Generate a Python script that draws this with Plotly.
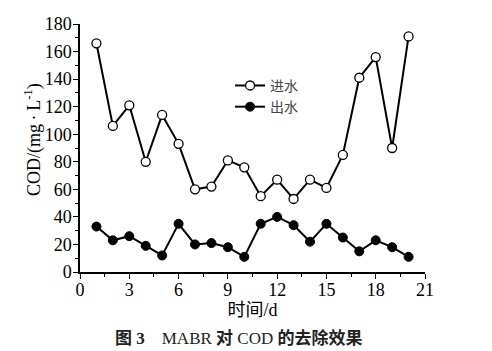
import plotly.graph_objects as go

days = list(range(1, 21))
influent = [166, 106, 121, 80, 114, 93, 60, 62, 81, 76, 55, 67, 53, 67, 61, 85, 141, 156, 90, 171]
effluent = [33, 23, 26, 19, 12, 35, 20, 21, 18, 11, 35, 40, 34, 22, 35, 25, 15, 23, 18, 11]
names = ["进水", "出水"]

serif = "Liberation Serif, Times New Roman, Noto Sans CJK SC, serif"

fig = go.Figure()
fig.add_trace(go.Scatter(
    x=days, y=influent, name=names[0], mode="lines+markers",
    line=dict(color="black", width=2),
    marker=dict(symbol="circle", size=9, color="white", line=dict(color="black", width=1.3)),
))
fig.add_trace(go.Scatter(
    x=days, y=effluent, name=names[1], mode="lines+markers",
    line=dict(color="black", width=2),
    marker=dict(symbol="circle", size=9, color="black", line=dict(color="black", width=1)),
))

fig.update_layout(
    width=492, height=351,
    margin=dict(l=80, r=67, t=24, b=79),
    paper_bgcolor="white", plot_bgcolor="white",
    font=dict(family=serif, color="black", size=18),
    showlegend=True,
    legend=dict(x=0.435, y=0.815, xanchor="left", yanchor="top",
                bgcolor="rgba(0,0,0,0)", font=dict(size=14, family="Noto Sans CJK SC", color="#444"),
                tracegroupgap=0, itemwidth=30),
    xaxis=dict(range=[0, 21], dtick=3, tick0=0, showline=True, linecolor="black", linewidth=1.5,
               ticks="outside", ticklen=5, tickwidth=1.3, tickcolor="black",
               minor=dict(dtick=1.5, ticks="outside", ticklen=3, tickwidth=1.3, tickcolor="black"),
               showgrid=False, zeroline=False, tickfont=dict(size=18), ticklabelstandoff=-4,
               title=dict(text="时间/d", font=dict(size=18), standoff=2)),
    yaxis=dict(range=[0, 180], dtick=20, tick0=0, showline=True, linecolor="black", linewidth=1.5,
               ticks="outside", ticklen=5, tickwidth=1.3, tickcolor="black",
               minor=dict(dtick=10, ticks="outside", ticklen=3, tickwidth=1.3, tickcolor="black"),
               showgrid=False, zeroline=False, tickfont=dict(size=18), ticklabelstandoff=-2),
)

fig.add_annotation(text="COD/(mg\u2009·\u2009L<sup>-1</sup>)", xref="paper", yref="paper",
                   x=(33 - 80) / 345, y=(272 - 140) / 248, xanchor="center", yanchor="middle",
                   textangle=-90, showarrow=False, font=dict(size=18, family=serif, color="black"))

fig.add_annotation(text="<b>图 3</b>    MABR <b>对</b> COD <b>的去除效果</b>", xref="paper", yref="paper",
                   x=0.458, y=(272 - 338) / 248, xanchor="center", yanchor="middle", showarrow=False,
                   font=dict(size=17, family=serif, color="#222"))

fig.write_html("out.html")
